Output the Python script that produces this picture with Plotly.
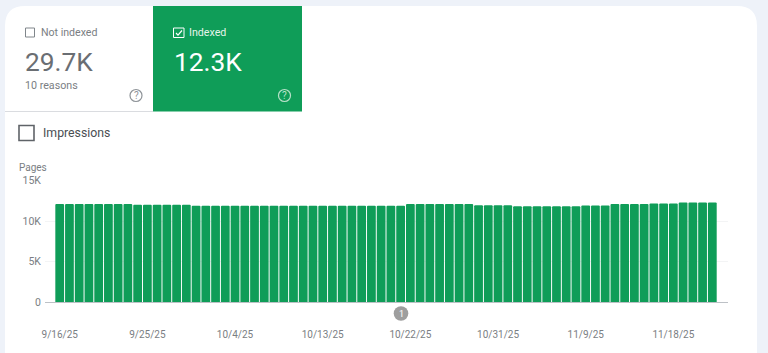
import datetime as dt
import plotly.graph_objects as go

W, H = 768, 353

start = dt.date(2025, 9, 16)
indexed_values = (
    [12100] * 8 + [12000] * 6 + [11880] * 22 + [12100] * 7
    + [11950] * 4 + [11820] * 7 + [11900] * 3 + [12100] * 4 + [12170] * 3 + [12280] * 4
)
dates = [(start + dt.timedelta(days=i)) for i in range(len(indexed_values))]
date_labels = [f"{d.month}/{d.day}/{d.year % 100}" for d in dates]
x_tick_labels = date_labels[::9]
y_tick_values = [0, 5000, 10000, 15000]
y_tick_labels = ["0", "5K", "10K", "15K"]

GREEN = "#0f9d58"
BG = "#eef2f9"
FONT = "Roboto, Arial, sans-serif"


def px(x):
    return x / W


def py(y):
    return 1 - y / H


def rect(x0, y0, x1, y1, fill=None, line=None, lw=0):
    return dict(type="rect", xref="paper", yref="paper", x0=px(x0), x1=px(x1), y0=py(y0), y1=py(y1),
                fillcolor=fill or "rgba(0,0,0,0)", line=dict(color=line or "rgba(0,0,0,0)", width=lw), layer="below")


def circle(cx, cy, r, fill=None, line=None, lw=0, layer="below"):
    return dict(type="circle", xref="paper", yref="paper", x0=px(cx - r), x1=px(cx + r), y0=py(cy + r), y1=py(cy - r),
                fillcolor=fill or "rgba(0,0,0,0)", line=dict(color=line or "rgba(0,0,0,0)", width=lw), layer=layer)


def path(points, line, lw, fill=None, closed=False, layer="above"):
    d = "M " + " L ".join(f"{px(x):.5f},{py(y):.5f}" for x, y in points) + (" Z" if closed else "")
    return dict(type="path", xref="paper", yref="paper", path=d, line=dict(color=line, width=lw),
                fillcolor=fill or "rgba(0,0,0,0)", layer=layer)


def text(x, y, s, size, color, anchor="left"):
    return dict(xref="paper", yref="paper", x=px(x), y=py(y), text=s, showarrow=False, xanchor=anchor, yanchor="middle",
                font=dict(family=FONT, size=size, color=color), align=anchor, borderpad=0, borderwidth=0)


card_r = 20
cl, cr, ct = 5, 757, 6
card_path = (
    f"M {px(cl)},{py(H + 2)} L {px(cl)},{py(ct + card_r)} "
    f"Q {px(cl)},{py(ct)} {px(cl + card_r)},{py(ct)} "
    f"L {px(cr - card_r)},{py(ct)} Q {px(cr)},{py(ct)} {px(cr)},{py(ct + card_r)} "
    f"L {px(cr)},{py(H + 2)} Z"
)

shapes = [
    dict(type="path", xref="paper", yref="paper", path=card_path, fillcolor="white", line=dict(width=0), layer="below"),
    rect(153, 6, 302, 111.5, fill=GREEN),
    dict(type="line", xref="paper", yref="paper", x0=px(5), x1=px(153), y0=py(111.5), y1=py(111.5),
         line=dict(color="#dadce0", width=1), layer="below"),
    rect(25.5, 28, 34.5, 37, line="#80868b", lw=1),
    rect(173.5, 28, 184, 37.5, line="white", lw=1),
    path([(176, 33), (178, 35.2), (182, 30.5)], "white", 1.2),
    circle(136, 95.5, 6, line="#8f9499", lw=1.2),
    circle(284.5, 95.5, 6, line="#b7e1c8", lw=1.2),
    rect(19, 125.5, 34, 140.5, line="#5f6368", lw=1.6),
    circle(401, 313.5, 7.3, fill="#9e9e9e"),
]

annotations = [
    text(40.5, 33, "Not indexed", 10.6, "#7a7e83"),
    text(24.5, 62, "29.7K", 26.3, "#6a6e73"),
    text(25, 85.5, "10 reasons", 10.7, "#7a7e83"),
    text(136, 95.5, "?", 10, "#8f9499", "center"),
    text(188.5, 33, "Indexed", 10.7, "#e6f4ea"),
    text(173.5, 62, "12.3K", 26.3, "white"),
    text(284.5, 95.5, "?", 10, "#b7e1c8", "center"),
    text(43, 133, "Impressions", 12.3, "#4a4e52"),
    text(18.5, 167, "Pages", 10, "#7a7e83"),
    text(401, 313.5, "1", 9, "white", "center"),
]

fig = go.Figure(
    go.Bar(
        x=date_labels,
        y=indexed_values,
        marker=dict(color=GREEN, line=dict(width=0), cornerradius=1),
        width=0.9,
        hoverinfo="skip",
    )
)
fig.update_layout(
    width=W,
    height=H,
    margin=dict(l=0, r=0, t=0, b=0, pad=0, autoexpand=False),
    paper_bgcolor=BG,
    plot_bgcolor="rgba(0,0,0,0)",
    showlegend=False,
    shapes=shapes,
    annotations=annotations,
    font=dict(family=FONT, color="#7a7e83", size=10),
    xaxis=dict(
        domain=[px(45), px(728)],
        automargin=False,
        type="category",
        categoryorder="array",
        categoryarray=date_labels,
        range=[-1.51, 68.61],
        tickmode="array",
        tickvals=x_tick_labels,
        ticktext=x_tick_labels,
        tickangle=0,
        ticks="outside",
        ticklen=23,
        tickcolor="rgba(0,0,0,0)",
        showgrid=False,
        showline=False,
        zeroline=False,
        tickfont=dict(family=FONT, size=10, color="#7a7e83"),
    ),
    yaxis=dict(
        domain=[py(302), py(180.5)],
        automargin=False,
        range=[0, 15000],
        tickmode="array",
        tickvals=y_tick_values,
        ticktext=y_tick_labels,
        showgrid=True,
        gridcolor="#f3f4f5",
        gridwidth=1,
        zeroline=True,
        zerolinecolor="#bdc1c6",
        zerolinewidth=1,
        showline=False,
        ticks="outside",
        ticklen=1,
        tickcolor="rgba(0,0,0,0)",
        tickfont=dict(family=FONT, size=10.5, color="#7a7e83"),
    ),
)
fig.write_html("out.html", config={"displayModeBar": False},
               post_script="document.body.style.margin='0';document.documentElement.style.overflow='hidden';")
